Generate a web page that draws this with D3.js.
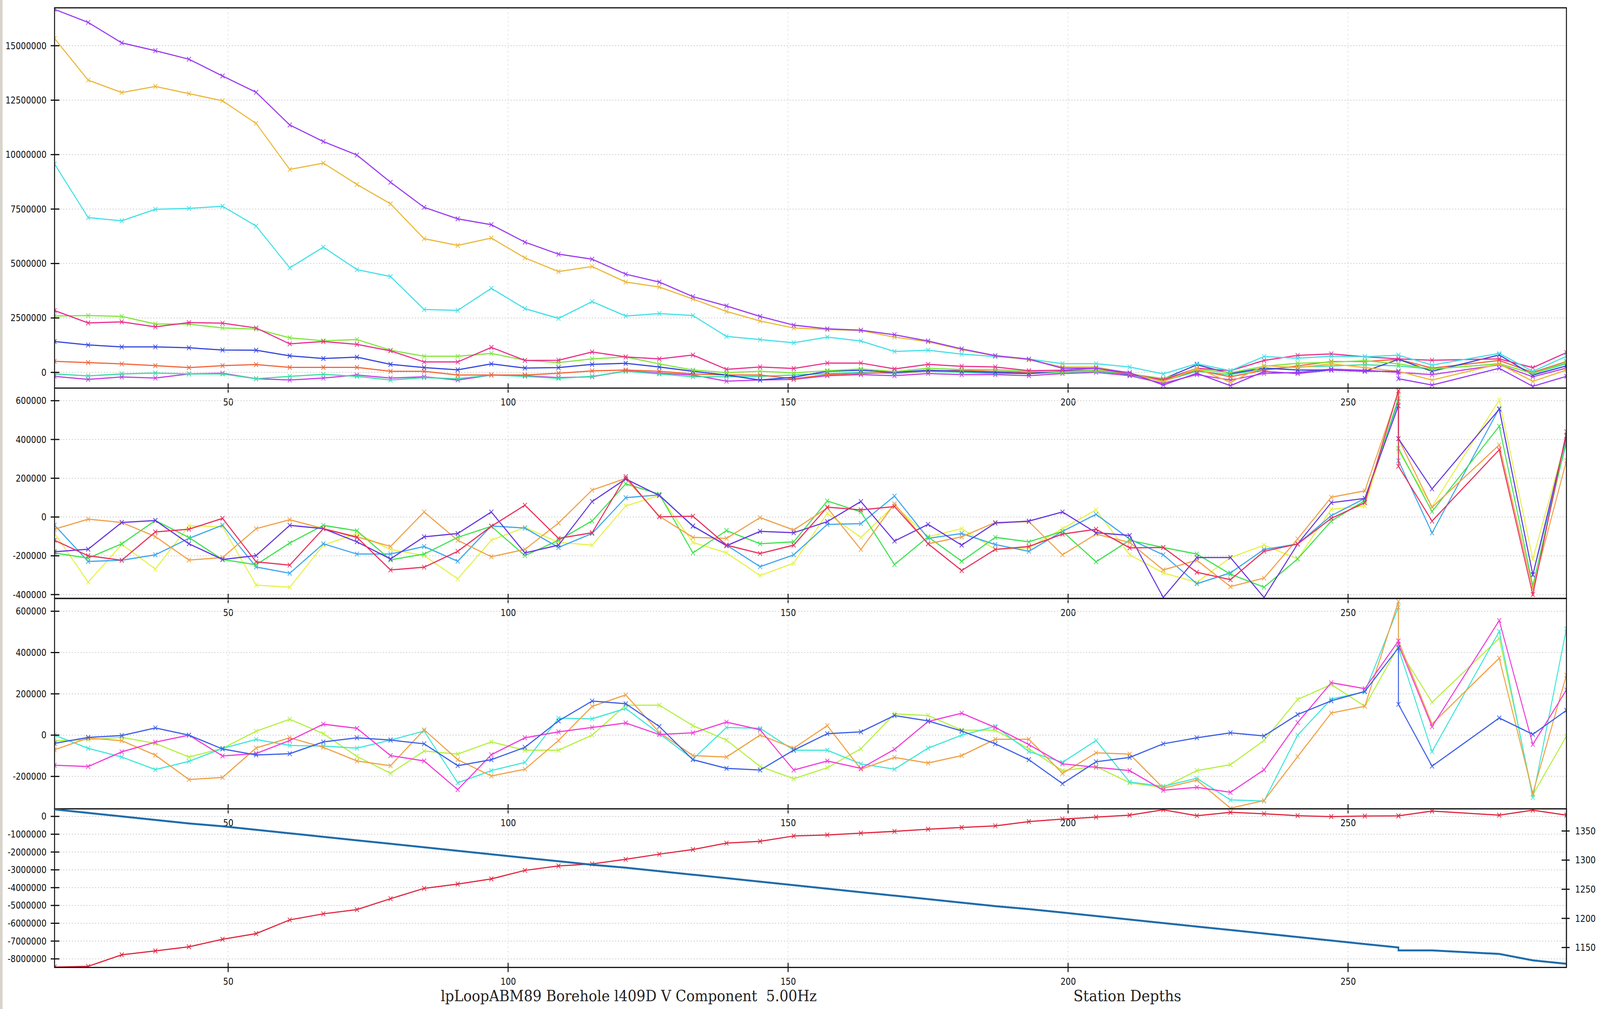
<!DOCTYPE html>
<html>
<head>
<meta charset="utf-8">
<script src="https://cdnjs.cloudflare.com/ajax/libs/d3/7.8.5/d3.min.js"></script>
<style>
	html, body { margin: 0; padding: 0; background: #fff; overflow: hidden; }
	#chart { display: block; width: 100vw; height: 100vh; }
	svg text { font-family: "DejaVu Sans", sans-serif; }
</style>
</head>
<body>
<svg id="chart" viewBox="0 0 4956 2583" preserveAspectRatio="none"></svg>
<script>
// station numbers (259 is logged twice, 271 is missing)
var stations = [19, 25, 31, 37, 43, 49, 55, 61, 67, 73, 79, 85, 91, 97, 103, 109, 115, 121, 127, 133,
	139, 145, 151, 157, 163, 169, 175, 181, 187, 193, 199, 205, 211, 217, 223, 229, 235, 241, 247, 253,
	259, 259, 265, 277, 283, 289];
var xTicks = [50, 100, 150, 200, 250];

// panel 1
var p1Purple = [16.67e6, 16.07e6, 15.13e6, 14.77e6, 14.38e6, 13.61e6, 12.86e6, 11.36e6, 10.60e6, 9.98e6, 8.73e6, 7.58e6, 7.05e6, 6.78e6, 5.98e6, 5.43e6, 5.20e6, 4.51e6, 4.15e6, 3.48e6,
	3.05e6, 2.57e6, 2.17e6, 2.00e6, 1.94e6, 1.73e6, 1.44e6, 1.08e6, 0.77e6, 0.61e6, 0.19e6, 0.19e6, -0.01e6, -0.58e6, -0.04e6, -0.61e6, 0.04e6, -0.05e6, 0.11e6, 0.05e6,
	0.05e6, -0.29e6, -0.58e6, 0.19e6, -0.64e6, -0.18e6];
var p1Gold = [15.33e6, 13.42e6, 12.85e6, 13.13e6, 12.80e6, 12.47e6, 11.43e6, 9.32e6, 9.61e6, 8.63e6, 7.74e6, 6.14e6, 5.83e6, 6.17e6, 5.26e6, 4.63e6, 4.86e6, 4.15e6, 3.92e6, 3.37e6,
	2.80e6, 2.36e6, 2.04e6, 1.97e6, 1.92e6, 1.62e6, 1.41e6, 1.05e6, 0.76e6, 0.58e6, 0.25e6, 0.25e6, -0.04e6, -0.43e6, 0.19e6, -0.46e6, 0.31e6, 0.22e6, 0.39e6, 0.22e6,
	0.05e6, 0.05e6, -0.35e6, 0.39e6, -0.41e6, 0.11e6];
var p1Cyan = [9.57e6, 7.11e6, 6.96e6, 7.49e6, 7.53e6, 7.63e6, 6.72e6, 4.80e6, 5.75e6, 4.72e6, 4.40e6, 2.89e6, 2.85e6, 3.86e6, 2.93e6, 2.48e6, 3.25e6, 2.59e6, 2.70e6, 2.61e6,
	1.65e6, 1.51e6, 1.36e6, 1.62e6, 1.44e6, 0.96e6, 1.02e6, 0.84e6, 0.73e6, 0.61e6, 0.40e6, 0.40e6, 0.25e6, -0.07e6, 0.40e6, 0.08e6, 0.73e6, 0.65e6, 0.74e6, 0.72e6,
	0.79e6, 0.79e6, 0.34e6, 0.87e6, 0.05e6, 0.74e6];
var p1Pink = [2.84e6, 2.27e6, 2.32e6, 2.09e6, 2.29e6, 2.26e6, 2.04e6, 1.31e6, 1.42e6, 1.29e6, 0.99e6, 0.48e6, 0.48e6, 1.15e6, 0.55e6, 0.56e6, 0.94e6, 0.71e6, 0.62e6, 0.80e6,
	0.14e6, 0.25e6, 0.18e6, 0.43e6, 0.43e6, 0.16e6, 0.37e6, 0.28e6, 0.25e6, 0.08e6, 0.10e6, 0.19e6, -0.07e6, -0.34e6, 0.19e6, 0.08e6, 0.55e6, 0.78e6, 0.85e6, 0.72e6,
	0.62e6, 0.62e6, 0.56e6, 0.62e6, 0.22e6, 0.91e6];
var p1Green = [2.59e6, 2.61e6, 2.57e6, 2.22e6, 2.22e6, 2.04e6, 1.99e6, 1.59e6, 1.45e6, 1.51e6, 1.02e6, 0.74e6, 0.74e6, 0.87e6, 0.56e6, 0.45e6, 0.62e6, 0.71e6, 0.39e6, 0.11e6,
	-0.01e6, 0.05e6, -0.02e6, 0.08e6, 0.16e6, 0.04e6, 0.19e6, 0.13e6, 0.13e6, 0.04e6, 0.02e6, 0.10e6, -0.07e6, -0.28e6, 0.13e6, -0.01e6, 0.28e6, 0.42e6, 0.47e6, 0.54e6,
	0.39e6, 0.39e6, 0.16e6, 0.39e6, -0.05e6, 0.47e6];
var p1Blue = [1.42e6, 1.26e6, 1.17e6, 1.17e6, 1.13e6, 1.03e6, 1.02e6, 0.76e6, 0.64e6, 0.70e6, 0.37e6, 0.22e6, 0.12e6, 0.39e6, 0.20e6, 0.22e6, 0.37e6, 0.42e6, 0.25e6, 0.05e6,
	-0.12e6, -0.35e6, -0.22e6, 0.05e6, 0.10e6, 0.00e6, 0.10e6, 0.05e6, 0.00e6, -0.05e6, 0.05e6, 0.10e6, -0.10e6, -0.30e6, 0.35e6, -0.05e6, 0.20e6, 0.11e6, 0.11e6, 0.05e6,
	0.60e6, 0.60e6, 0.05e6, 0.80e6, -0.12e6, 0.30e6];
var p1Orange = [0.51e6, 0.45e6, 0.39e6, 0.31e6, 0.22e6, 0.31e6, 0.36e6, 0.23e6, 0.23e6, 0.23e6, 0.05e6, 0.05e6, -0.12e6, -0.12e6, -0.12e6, -0.04e6, 0.07e6, 0.11e6, 0.05e6, -0.07e6,
	-0.12e6, -0.12e6, -0.29e6, -0.10e6, -0.05e6, 0.00e6, 0.05e6, 0.10e6, 0.05e6, 0.00e6, 0.05e6, 0.10e6, -0.05e6, -0.35e6, 0.10e6, -0.20e6, 0.10e6, 0.30e6, 0.50e6, 0.50e6,
	0.60e6, 0.60e6, 0.20e6, 0.55e6, 0.00e6, 0.50e6];
var p1Teal = [-0.07e6, -0.16e6, -0.07e6, -0.03e6, -0.07e6, -0.07e6, -0.29e6, -0.18e6, -0.09e6, -0.18e6, -0.35e6, -0.24e6, -0.29e6, -0.12e6, -0.18e6, -0.27e6, -0.18e6, 0.05e6, -0.07e6, -0.20e6,
	-0.20e6, -0.18e6, -0.12e6, -0.05e6, 0.00e6, -0.05e6, 0.05e6, 0.00e6, -0.05e6, -0.05e6, 0.00e6, 0.05e6, -0.10e6, -0.40e6, 0.05e6, -0.10e6, 0.15e6, 0.25e6, 0.30e6, 0.35e6,
	0.30e6, 0.30e6, 0.15e6, 0.40e6, -0.05e6, 0.40e6];
var p1Violet = [-0.18e6, -0.32e6, -0.21e6, -0.26e6, -0.07e6, -0.04e6, -0.29e6, -0.35e6, -0.26e6, -0.12e6, -0.26e6, -0.20e6, -0.35e6, -0.12e6, -0.15e6, -0.24e6, -0.20e6, 0.07e6, -0.03e6, -0.12e6,
	-0.40e6, -0.35e6, -0.32e6, -0.15e6, -0.10e6, -0.15e6, -0.05e6, -0.10e6, -0.10e6, -0.15e6, -0.05e6, 0.00e6, -0.15e6, -0.50e6, -0.10e6, -0.35e6, -0.05e6, 0.00e6, 0.15e6, 0.10e6,
	0.00e6, 0.00e6, -0.10e6, 0.35e6, -0.20e6, 0.20e6];
var p1Ticks = [0, 2500000, 5000000, 7500000, 10000000, 12500000, 15000000];

// panel 2
var p2Orange = [-63e3, -11e3, -28e3, -101e3, -222e3, -209e3, -60e3, -14e3, -60e3, -102e3, -152e3, 26e3, -120e3, -205e3, -167e3, -31e3, 139e3, 199e3, 4e3, -105e3,
	-110e3, -3e3, -67e3, 47e3, -167e3, 68e3, -138e3, -102e3, -28e3, -24e3, -195e3, -88e3, -131e3, -273e3, -223e3, -359e3, -315e3, -113e3, 102e3, 135e3,
	645e3, 404e3, 50e3, 372e3, -369e3, 291e3];
var p2Violet = [-179e3, -166e3, -28e3, -18e3, -138e3, -219e3, -199e3, -43e3, -60e3, -128e3, -216e3, -102e3, -85e3, 26e3, -185e3, -145e3, 80e3, 196e3, 111e3, -46e3,
	-148e3, -74e3, -81e3, -24e3, 80e3, -124e3, -38e3, -145e3, -31e3, -21e3, 26e3, -81e3, -95e3, -415e3, -209e3, -209e3, -415e3, -139e3, 74e3, 96e3,
	574e3, 404e3, 145e3, 556e3, -298e3, 420e3];
var p2Green = [-186e3, -212e3, -138e3, -18e3, -106e3, -219e3, -246e3, -134e3, -43e3, -71e3, -221e3, -191e3, -105e3, -48e3, -199e3, -120e3, -20e3, 171e3, 118e3, -185e3,
	-70e3, -138e3, -128e3, 83e3, 26e3, -245e3, -102e3, -228e3, -105e3, -128e3, -74e3, -231e3, -120e3, -157e3, -191e3, -295e3, -362e3, -216e3, -21e3, 85e3,
	610e3, 354e3, 28e3, 468e3, -354e3, 397e3];
var p2Red = [-120e3, -200e3, -223e3, -77e3, -63e3, -7e3, -231e3, -248e3, -60e3, -105e3, -273e3, -259e3, -177e3, -48e3, 61e3, -110e3, -81e3, 208e3, 1e3, 4e3,
	-145e3, -188e3, -145e3, 51e3, 37e3, 54e3, -138e3, -276e3, -167e3, -152e3, -88e3, -63e3, -159e3, -157e3, -285e3, -323e3, -177e3, -139e3, -7e3, 74e3,
	652e3, 262e3, -21e3, 347e3, -400e3, 440e3];
var p2Sky = [-42e3, -229e3, -223e3, -195e3, -110e3, -42e3, -258e3, -290e3, -138e3, -191e3, -191e3, -152e3, -228e3, -46e3, -57e3, -157e3, -85e3, 100e3, 114e3, -48e3,
	-145e3, -256e3, -195e3, -38e3, -34e3, 108e3, -110e3, -85e3, -142e3, -177e3, -74e3, 14e3, -114e3, -195e3, -344e3, -288e3, -167e3, -139e3, 7e3, 96e3,
	596e3, 291e3, -82e3, 560e3, -298e3, 383e3];
var p2Yellow = [-84e3, -336e3, -141e3, -268e3, -45e3, -50e3, -351e3, -362e3, -145e3, -85e3, -167e3, -199e3, -319e3, -120e3, -53e3, -131e3, -145e3, 57e3, 111e3, -131e3,
	-185e3, -302e3, -238e3, 19e3, -105e3, 61e3, -102e3, -60e3, -167e3, -159e3, -60e3, 37e3, -195e3, -288e3, -337e3, -209e3, -145e3, -216e3, 40e3, 57e3,
	617e3, 340e3, 54e3, 603e3, -216e3, 411e3];
var p2Ticks = [-400000, -200000, 0, 200000, 400000, 600000];

// panel 3
var p3Blue = [-40e3, -11e3, -2e3, 35e3, 0, -67e3, -96e3, -90e3, -33e3, -13e3, -24e3, -42e3, -148e3, -119e3, -59e3, 69e3, 165e3, 152e3, 42e3, -119e3,
	-161e3, -169e3, -73e3, 7e3, 16e3, 95e3, 69e3, 20e3, -42e3, -119e3, -235e3, -129e3, -108e3, -42e3, -13e3, 11e3, -4e3, 100e3, 166e3, 212e3,
	423e3, 149e3, -150e3, 83e3, 4e3, 120e3];
var p3Orange = [-71e3, -14e3, -27e3, -97e3, -215e3, -205e3, -62e3, -13e3, -59e3, -125e3, -148e3, 26e3, -119e3, -198e3, -165e3, -26e3, 139e3, 195e3, 13e3, -99e3,
	-106e3, 0, -63e3, 46e3, -165e3, -108e3, -135e3, -99e3, -20e3, -20e3, -185e3, -86e3, -92e3, -257e3, -218e3, -354e3, -317e3, -104e3, 107e3, 140e3,
	647e3, 456e3, 54e3, 373e3, -282e3, 291e3];
var p3Magenta = [-146e3, -152e3, -81e3, -34e3, 0, -101e3, -89e3, -26e3, 53e3, 33e3, -99e3, -125e3, -264e3, -95e3, -13e3, 16e3, 37e3, 59e3, 3e3, 11e3,
	63e3, 26e3, -169e3, -125e3, -161e3, -69e3, 66e3, 106e3, 37e3, -46e3, -139e3, -156e3, -172e3, -267e3, -253e3, -277e3, -168e3, 61e3, 254e3, 225e3,
	456e3, 440e3, 41e3, 555e3, -45e3, 219e3];
var p3Cyan = [0, -64e3, -106e3, -167e3, -127e3, -64e3, -21e3, -50e3, -53e3, -63e3, -24e3, 20e3, -231e3, -172e3, -132e3, 82e3, 79e3, 129e3, 7e3, -116e3,
	37e3, 33e3, -73e3, -73e3, -139e3, -165e3, -63e3, 0, 42e3, -79e3, -132e3, -26e3, -227e3, -248e3, -209e3, -314e3, -319e3, 0, 175e3, 209e3,
	620e3, 420e3, -80e3, 502e3, -302e3, 515e3];
var p3Lime = [-27e3, -22e3, -11e3, -40e3, -106e3, -64e3, 19e3, 77e3, 7e3, -103e3, -185e3, -77e3, -92e3, -33e3, -73e3, -73e3, 0, 145e3, 145e3, 46e3,
	-24e3, -152e3, -211e3, -158e3, -66e3, 103e3, 95e3, 24e3, 24e3, -66e3, -172e3, -152e3, -231e3, -253e3, -172e3, -143e3, -26e3, 173e3, 245e3, 140e3,
	430e3, 420e3, 159e3, 469e3, -289e3, -5e3];
var p3Ticks = [-200000, 0, 200000, 400000, 600000];

// panel 4
var p4Sum = [-8.46e6, -8.42e6, -7.77e6, -7.55e6, -7.32e6, -6.90e6, -6.58e6, -5.81e6, -5.47e6, -5.23e6, -4.62e6, -4.04e6, -3.80e6, -3.51e6, -3.03e6, -2.78e6, -2.67e6, -2.41e6, -2.12e6, -1.86e6,
	-1.50e6, -1.40e6, -1.10e6, -1.04e6, -0.94e6, -0.84e6, -0.72e6, -0.62e6, -0.53e6, -0.29e6, -0.15e6, -0.04e6, 0.07e6, 0.37e6, 0.04e6, 0.23e6, 0.15e6, 0.04e6, -0.01e6, 0.02e6,
	0.03e6, 0.03e6, 0.30e6, 0.07e6, 0.35e6, 0.07e6];
var p4Depth = [1387, 1381, 1375, 1369, 1363, 1358, 1352, 1346, 1340, 1334, 1328, 1322, 1316, 1310, 1304, 1298, 1292, 1287, 1281, 1275,
	1269, 1263, 1257, 1251, 1245, 1239, 1233, 1227, 1221, 1216, 1210, 1204, 1198, 1192, 1186, 1180, 1174, 1168, 1162, 1156,
	1150, 1145, 1145, 1139, 1128, 1122];
var p4Ticks = [-8000000, -7000000, -6000000, -5000000, -4000000, -3000000, -2000000, -1000000, 0];
var p4DepthTicks = [1150, 1200, 1250, 1300, 1350];

var titleText = "lpLoopABM89 Borehole l409D V Component  5.00Hz";
var depthText = "Station Depths";

var ChartView = {
	svg: null,
	x: null,
	left: 169,
	right: 4852,

	init: function() {
		var self = this;
		self.svg = d3.select("#chart");
		self.svg.append("rect").attr("width", 4956).attr("height", 2583).attr("fill", "#fff");
		self.svg.append("rect").attr("width", 8).attr("height", 2583).attr("fill", "#d8d4cb");
		self.x = d3.scaleLinear().domain([19, 289]).range([self.left, self.right]);
	},
	styleLabels: function(axisGroup) {
		axisGroup.select(".domain").remove();
		axisGroup.selectAll("text")
			.attr("font-size", 25)
			.attr("font-family", "DejaVu Sans")
			.attr("fill", "#111");
	},
	drawPanel: function(id, top, bottom, domain, ticks, seriesList, lineWidth) {
		var self = this;
		var x = self.x;
		var y = d3.scaleLinear().domain(domain).range([bottom, top]);
		var g = self.svg.append("g").attr("class", "panel " + id);

		g.append("clipPath").attr("id", "clip-" + id)
			.append("rect")
			.attr("x", self.left).attr("y", top)
			.attr("width", self.right - self.left).attr("height", bottom - top);

		// grid
		g.append("g").selectAll("line").data(ticks).join("line")
			.attr("x1", self.left).attr("x2", self.right)
			.attr("y1", d => y(d)).attr("y2", d => y(d))
			.attr("stroke", "#c4c4c4").attr("stroke-width", 2)
			.attr("stroke-dasharray", "3,6");
		g.append("g").selectAll("line").data(xTicks).join("line")
			.attr("x1", d => x(d)).attr("x2", d => x(d))
			.attr("y1", top).attr("y2", bottom)
			.attr("stroke", "#d6d6d6").attr("stroke-width", 1.5)
			.attr("stroke-dasharray", "5,6");

		var plot = g.append("g").attr("clip-path", "url(#clip-" + id + ")");
		seriesList.forEach(function(s) {
			var pts = stations.map(function(st, i) { return [st, s.values[i]]; });
			plot.append("path")
				.datum(pts)
				.attr("fill", "none")
				.attr("stroke", s.color)
				.attr("stroke-width", lineWidth)
				.attr("d", d3.line().x(d => x(d[0])).y(d => y(d[1])));
			plot.append("g").selectAll("path").data(pts).join("path")
				.attr("transform", d => "translate(" + x(d[0]) + "," + y(d[1]) + ")")
				.attr("d", d3.symbol(d3.symbolX, 96))
				.attr("fill", "none")
				.attr("stroke", s.color)
				.attr("stroke-width", 2);
		});

		g.append("rect")
			.attr("x", self.left).attr("y", top)
			.attr("width", self.right - self.left).attr("height", bottom - top)
			.attr("fill", "none").attr("stroke", "#111").attr("stroke-width", 3);

		// y axis
		var yAxis = g.append("g")
			.attr("transform", "translate(" + self.left + ",0)")
			.call(d3.axisLeft(y).tickValues(ticks).tickSize(0).tickPadding(25).tickFormat(d => String(d)));
		self.styleLabels(yAxis);
		g.append("g").selectAll("line").data(ticks).join("line")
			.attr("x1", self.left - 12).attr("x2", self.left + 15)
			.attr("y1", d => y(d)).attr("y2", d => y(d))
			.attr("stroke", "#111").attr("stroke-width", 3);

		// x axis
		var xAxis = g.append("g")
			.attr("transform", "translate(0," + bottom + ")")
			.call(d3.axisBottom(x).tickValues(xTicks).tickSize(0).tickPadding(27).tickFormat(d => String(d)));
		self.styleLabels(xAxis);
		g.append("g").selectAll("line").data(xTicks).join("line")
			.attr("x1", d => x(d)).attr("x2", d => x(d))
			.attr("y1", bottom - 12).attr("y2", bottom + 12)
			.attr("stroke", "#111").attr("stroke-width", 3);

		return g;
	},
	drawDepthAxis: function(g, top, bottom) {
		var self = this;
		var x = self.x;
		var yd = d3.scaleLinear().domain([1115.8, 1388]).range([bottom, top]);
		var pts = stations.map(function(st, i) { return [st, p4Depth[i]]; });

		g.append("path")
			.datum(pts)
			.attr("clip-path", "url(#clip-p4)")
			.attr("fill", "none")
			.attr("stroke", "#1f6cab")
			.attr("stroke-width", 5)
			.attr("d", d3.line().x(d => x(d[0])).y(d => yd(d[1])));

		var rAxis = g.append("g")
			.attr("transform", "translate(" + self.right + ",0)")
			.call(d3.axisRight(yd).tickValues(p4DepthTicks).tickSize(0).tickPadding(27).tickFormat(d => String(d)));
		self.styleLabels(rAxis);
		g.append("g").selectAll("line").data(p4DepthTicks).join("line")
			.attr("x1", self.right - 15).attr("x2", self.right + 10)
			.attr("y1", d => yd(d)).attr("y2", d => yd(d))
			.attr("stroke", "#111").attr("stroke-width", 3);
		g.append("line")
			.attr("x1", self.right).attr("x2", self.right)
			.attr("y1", top).attr("y2", bottom)
			.attr("stroke", "#111").attr("stroke-width", 3);
	},
	drawTitles: function() {
		var self = this;
		self.svg.append("text")
			.attr("x", 1365).attr("y", 2563)
			.attr("textLength", 1165).attr("lengthAdjust", "spacingAndGlyphs")
			.style("font-family", "DejaVu Serif").style("font-size", "40px").attr("fill", "#222")
			.attr("xml:space", "preserve")
			.text(titleText);
		self.svg.append("text")
			.attr("x", 3325).attr("y", 2563)
			.attr("textLength", 334).attr("lengthAdjust", "spacingAndGlyphs")
			.style("font-family", "DejaVu Serif").style("font-size", "40px").attr("fill", "#222")
			.text(depthText);
	}
};

ChartView.init();
ChartView.drawPanel("p1", 20, 993.5, [-0.72e6, 16.74e6], p1Ticks, [
	{ values: p1Violet, color: "#c43ee6" },
	{ values: p1Teal, color: "#3cdca4" },
	{ values: p1Orange, color: "#f2663a" },
	{ values: p1Blue, color: "#3446dc" },
	{ values: p1Green, color: "#80e63c" },
	{ values: p1Pink, color: "#e8308e" },
	{ values: p1Cyan, color: "#44e0e6" },
	{ values: p1Gold, color: "#eab83c" },
	{ values: p1Purple, color: "#9a3cf0" }
], 3);
ChartView.drawPanel("p2", 993.5, 1532, [-420000, 665000], p2Ticks, [
	{ values: p2Yellow, color: "#e6f24a" },
	{ values: p2Sky, color: "#3ca6ee" },
	{ values: p2Green, color: "#3ee24e" },
	{ values: p2Orange, color: "#f0a048" },
	{ values: p2Violet, color: "#6636e0" },
	{ values: p2Red, color: "#e8305c" }
], 3);
ChartView.drawPanel("p3", 1532, 2070.6, [-357000, 662000], p3Ticks, [
	{ values: p3Lime, color: "#b6f044" },
	{ values: p3Cyan, color: "#42e6d8" },
	{ values: p3Orange, color: "#f0a044" },
	{ values: p3Magenta, color: "#f03cd8" },
	{ values: p3Blue, color: "#3c5ee6" }
], 3);
var p4 = ChartView.drawPanel("p4", 2070.6, 2476.6, [-8.48e6, 0.425e6], p4Ticks, [
	{ values: p4Sum, color: "#e0263e" }
], 3);
ChartView.drawDepthAxis(p4, 2070.6, 2476.6);
ChartView.drawTitles();
</script>
</body>
</html>
